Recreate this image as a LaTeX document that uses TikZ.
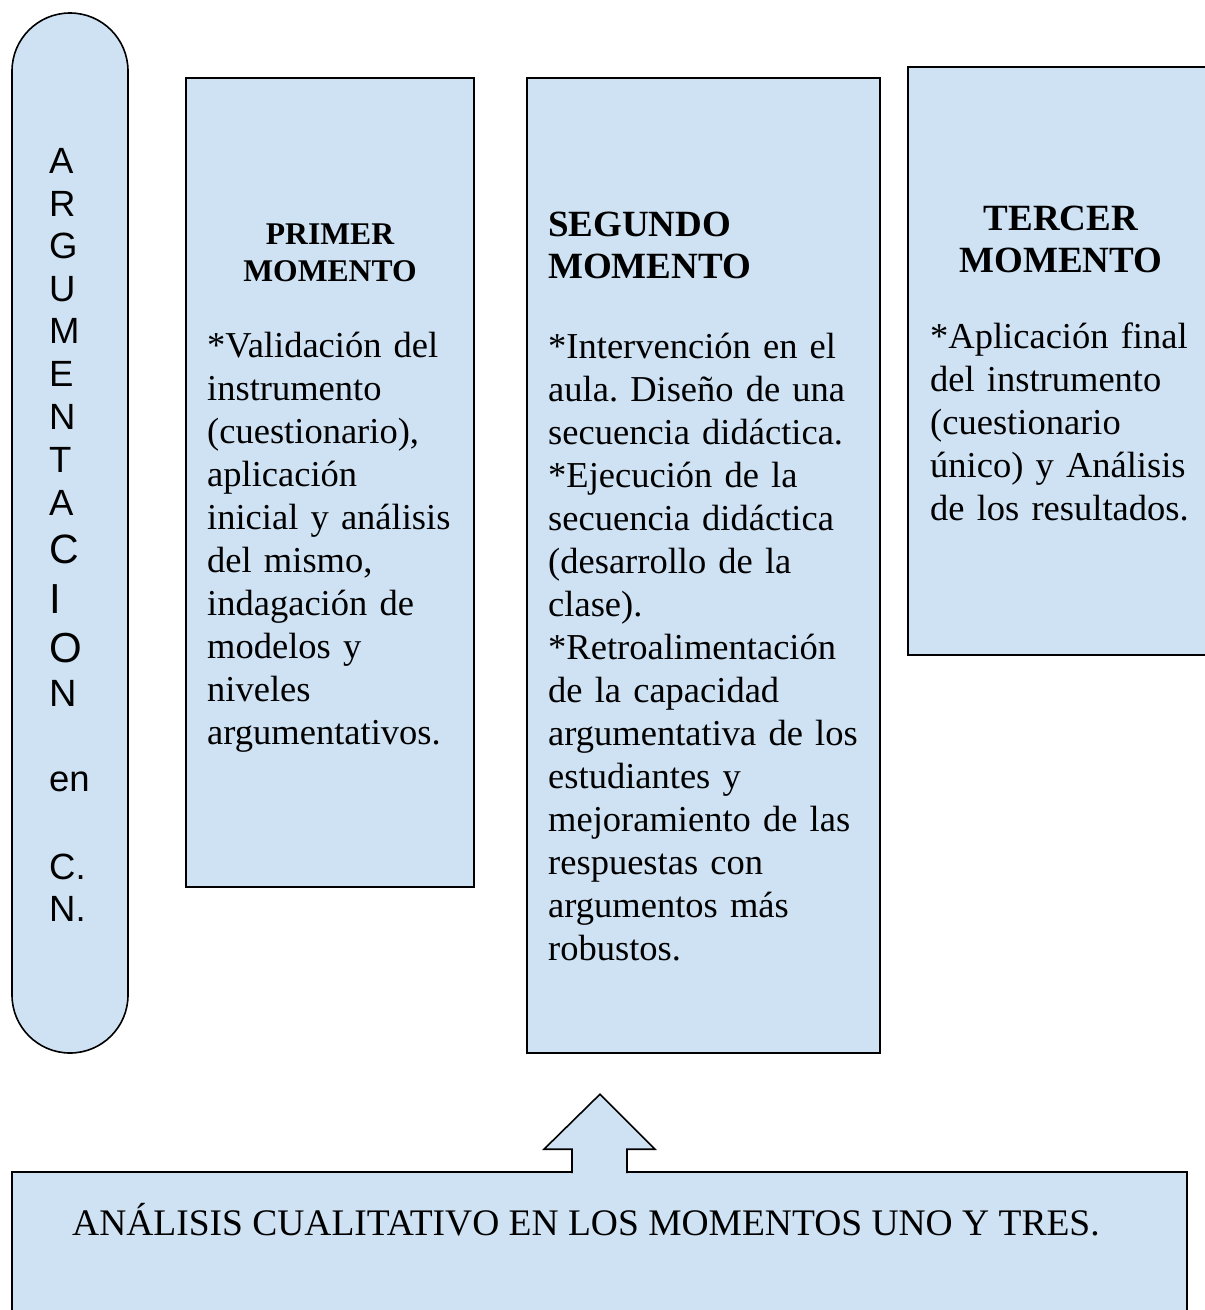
\documentclass[tikz,border=0pt]{standalone}
\usepackage{fontspec}
\setmainfont{Liberation Serif}
\newfontfamily\arialfont{Liberation Sans}
\usepackage{tikz}
\usetikzlibrary{calc, positioning}
\definecolor{cajaazul}{RGB}{207,226,243}
\frenchspacing

\tikzset{
  caja/.style={draw, fill=cajaazul, line width=1.6pt, inner sep=0pt},
  titulo/.style={font=\bfseries, align=center, anchor=base, inner sep=0pt},
  cuerpo/.style={font=\fontsize{36.5}{43}\selectfont, align=left,
                 text width=340pt, anchor=base west, inner sep=0pt},
  letra/.style={anchor=base west, inner sep=0pt}
}

\begin{document}
\begin{tikzpicture}[x=1pt, y=-1pt, line join=miter]
    \useasboundingbox (0,0) rectangle (1205,1310);
    \clip (0,0) rectangle (1205,1310);
    % columna izquierda
    \node[caja, rounded corners=58pt, minimum width=116, minimum height=1040]
          (argum) at (70,533) {};
    \foreach \ltr/\yb/\tam [count=\i] in {A/173/36.5, R/216/36.5, G/258/36.5,
        U/301/36.5, M/343/36.5, E/386/36.5, N/429/36.5, T/472/36.5,
        A/515/36.5, C/563/41, I/613/42, O/662/42, N/706/38,
        en/791/36.5, C./879/36.5, N./921/36.5}
      \node[letra, font=\arialfont\fontsize{\tam}{\tam}\selectfont]
          (l\i) at (49,\yb) {\ltr};
    % momentos
    \node[caja, minimum width=288, minimum height=809] (primer) at (330,482.5) {};
    \node[caja, minimum width=353, minimum height=975] (segundo) at (703.5,565.5) {};
    \node[caja, minimum width=320, minimum height=588] (tercer) at (1068,361) {};
    % titulos (base = ultima linea)
    \node[titulo, font=\bfseries\fontsize{31.6}{37}\selectfont]
          (t1) at (330,281) {PRIMER\\MOMENTO};
    \node[titulo, font=\bfseries\fontsize{37}{42}\selectfont, align=left, anchor=base west]
          (t2) at (548,278) {SEGUNDO\\MOMENTO};
    \node[titulo, font=\bfseries\fontsize{37}{42}\selectfont]
          (t3) at (1061,272) {TERCER\\MOMENTO};
    \node[cuerpo] (c1) at (207,357) {*Validación del\\instrumento\\(cuestionario),\\
          aplicación\\inicial y análisis\\del mismo,\\indagación de\\modelos y\\
          niveles\\argumentativos.};
    \node[cuerpo] (c2) at (548,358) {*Intervención en el\\aula. Diseño de una\\
          secuencia didáctica.\\{}*Ejecución de la\\secuencia didáctica\\
          (desarrollo de la\\clase).\\{}*Retroalimentación\\de la capacidad\\
          argumentativa de los\\estudiantes y\\mejoramiento de las\\
          respuestas con\\argumentos más\\robustos.};
    \node[cuerpo] (c3) at (930,348) {*Aplicación final\\del instrumento\\
          (cuestionario\\único) y Análisis\\de los resultados.};
    % analisis
    \node[caja, minimum width=1175, minimum height=168] (analisis) at (599.5,1256) {};
    \node[letra, font=\fontsize{37.5}{43}\selectfont] (ta) at (72,1235)
          {ANÁLISIS CUALITATIVO EN LOS MOMENTOS UNO Y TRES.};
    \draw[fill=cajaazul, line width=1.6pt]
          ($(analisis.north)+(-27.5,2)$) -- ($(analisis.north)+(-27.5,-22)$)
          -- ($(analisis.north)+(-55.5,-22)$) -- ($(analisis.north)+(0.5,-77)$)
          -- ($(analisis.north)+(55.5,-22)$) -- ($(analisis.north)+(27.5,-22)$)
          -- ($(analisis.north)+(27.5,2)$);
\end{tikzpicture}
\end{document}
